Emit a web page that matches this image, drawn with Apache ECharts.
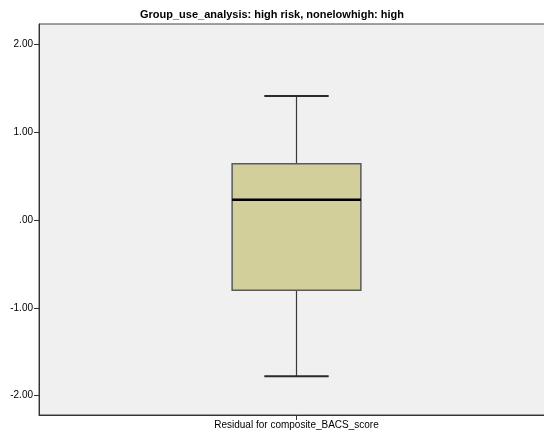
<!DOCTYPE html>
<html>
<head>
    <meta http-equiv="Content-Type" content="text/html; charset=utf-8" />
    <title>Group_use_analysis boxplot</title>
    <script src="https://cdn.jsdelivr.net/npm/echarts@6/dist/echarts.min.js"></script>
</head>
<body style="margin:0;padding:0;background:#ffffff;overflow:hidden;">
    <!-- the plot frame runs past the right edge of the window, as in the original -->
    <div id="main" style="width:554px;height:438px;"></div>
    <script type="text/javascript">
        // data
        var categories = ['Residual for composite_BACS_score'];
        // [min, Q1, median, Q3, max]
        var boxStats = [[-1.78, -0.80, 0.23, 0.64, 1.41]];
        var yTicks = [-2, -1, 0, 1, 2];
        var yTickLabels = ['-2.00', '-1.00', '.00', '1.00', '2.00'];

        var seriesData = [];
        for (var i = 0; i < boxStats.length; i++) {
            seriesData.push([i].concat(boxStats[i]));
        }

        function renderBox(params, api) {
            var cat = api.value(0);
            var band = api.size([1, 0])[0];
            var half = band * 0.125;
            var capHalf = band * 0.0625;
            var pMin = api.coord([cat, api.value(1)]);
            var pQ1 = api.coord([cat, api.value(2)]);
            var pMed = api.coord([cat, api.value(3)]);
            var pQ3 = api.coord([cat, api.value(4)]);
            var pMax = api.coord([cat, api.value(5)]);
            var cx = pMed[0];
            var lineStyle = { stroke: '#3a3a3a', lineWidth: 1.2 };
            return {
                type: 'group',
                children: [
                    { type: 'line', shape: { x1: cx, y1: pMax[1], x2: cx, y2: pQ3[1] }, style: lineStyle },
                    { type: 'line', shape: { x1: cx, y1: pQ1[1], x2: cx, y2: pMin[1] }, style: lineStyle },
                    { type: 'line', shape: { x1: cx - capHalf, y1: pMax[1], x2: cx + capHalf, y2: pMax[1] }, style: { stroke: '#2a2a2a', lineWidth: 2 } },
                    { type: 'line', shape: { x1: cx - capHalf, y1: pMin[1], x2: cx + capHalf, y2: pMin[1] }, style: { stroke: '#2a2a2a', lineWidth: 2 } },
                    { type: 'rect', shape: { x: cx - half, y: pQ3[1], width: half * 2, height: pQ1[1] - pQ3[1] },
                      style: { fill: '#d3cf9a', stroke: '#5a5a5a', lineWidth: 1.5 } },
                    { type: 'line', shape: { x1: cx - half, y1: pMed[1], x2: cx + half, y2: pMed[1] }, style: { stroke: '#000000', lineWidth: 2.5 } }
                ]
            };
        }

        var chart = echarts.init(document.getElementById('main'));
        var option = {
            animation: false,
            backgroundColor: '#ffffff',
            title: {
                text: 'Group_use_analysis: high risk, nonelowhigh: high',
                left: 135,
                top: 4,
                textStyle: {
                    fontFamily: 'Liberation Sans',
                    fontSize: 11,
                    fontWeight: 'bold',
                    color: '#000000'
                }
            },
            grid: {
                left: 39,
                top: 24,
                right: 0,
                bottom: 23,
                show: true,
                backgroundColor: '#f0f0f0',
                borderColor: '#444444',
                borderWidth: 1
            },
            xAxis: {
                type: 'category',
                data: categories,
                boundaryGap: true,
                axisLine: { show: true, onZero: false, lineStyle: { color: '#333333', width: 1 } },
                axisTick: { show: true, alignWithLabel: true, length: 5, lineStyle: { color: '#333333' } },
                axisLabel: {
                    margin: 5,
                    fontFamily: 'Liberation Sans',
                    fontSize: 10,
                    color: '#000000'
                },
                splitLine: { show: false }
            },
            yAxis: {
                type: 'value',
                min: -2.22,
                max: 2.23,
                axisLine: { show: true, lineStyle: { color: '#333333', width: 1 } },
                axisTick: { show: true, length: 5, customValues: yTicks, lineStyle: { color: '#333333' } },
                axisLabel: {
                    margin: 6,
                    fontFamily: 'Liberation Sans',
                    fontSize: 10,
                    color: '#000000',
                    customValues: yTicks,
                    formatter: function (v) {
                        var idx = yTicks.indexOf(Math.round(v));
                        return idx >= 0 ? yTickLabels[idx] : '';
                    }
                },
                splitLine: { show: false }
            },
            series: [{
                type: 'custom',
                renderItem: renderBox,
                encode: { x: 0, y: [1, 2, 3, 4, 5] },
                data: seriesData
            }]
        };
        chart.setOption(option);
    </script>
</body>
</html>
